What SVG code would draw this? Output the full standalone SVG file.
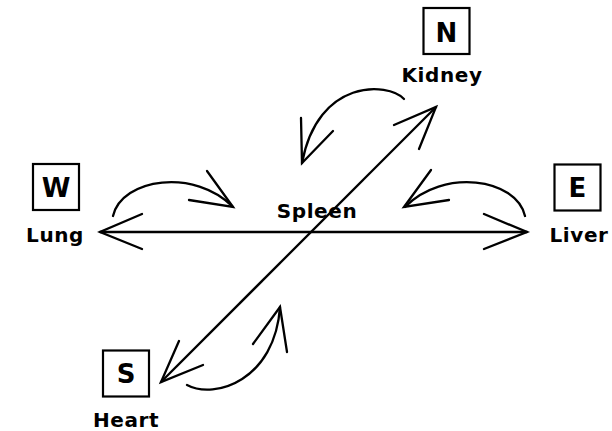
<svg xmlns="http://www.w3.org/2000/svg" width="612" height="431" viewBox="0 0 612 431">
<style>
.ln{fill:none;stroke:#000;stroke-width:2.3;stroke-linecap:round;stroke-linejoin:miter}
.box{fill:#fff;stroke:#000;stroke-width:2.2}
.lt{font-family:"DejaVu Sans",sans-serif;font-weight:bold;font-size:26px;text-anchor:middle}
.lb{font-family:"DejaVu Sans",sans-serif;font-weight:bold;font-size:20px;text-anchor:middle;letter-spacing:0.6px}
</style>
<rect width="612" height="431" fill="#fff"/>
<g id="connectors">
<path class="ln" d="M100,232 L527,232"/>
<path class="ln" d="M142,214 L100,232 L142,249"/>
<path class="ln" d="M484,214 L527,232 L484,249"/>
<path class="ln" d="M436,107 L161,382"/>
<path class="ln" d="M394,125 L436,107 L419,149"/>
<path class="ln" d="M179,341 L161,382 L203,365"/>
<path class="ln" d="M113,216 C122,178 195,168 233,207"/>
<path class="ln" d="M207,171 L233,207 L189,200"/>
<path class="ln" d="M525,216 C516,178 443,168 405,207"/>
<path class="ln" d="M431,170 L404,207 L449,200"/>
<path class="ln" d="M404,99 C388,82 318,78 302,163"/>
<path class="ln" d="M301,118 L302,163 L333,131"/>
<path class="ln" d="M187,385 C215,400 275,380 280,307"/>
<path class="ln" d="M253,344 L280,307 L287,352"/>
</g>
<g id="node-w">
<rect class="box" x="33" y="164" width="46" height="46"/>
<text class="lt" x="56" y="197">W</text>
<text class="lb" x="55" y="242">Lung</text>
</g>
<g id="node-n">
<rect class="box" x="423.5" y="8" width="46" height="46"/>
<text class="lt" x="446.5" y="41.5">N</text>
<text class="lb" x="442" y="82">Kidney</text>
</g>
<g id="node-e">
<rect class="box" x="554.5" y="164.5" width="46" height="46"/>
<text class="lt" x="577.5" y="197">E</text>
<text class="lb" x="579" y="242">Liver</text>
</g>
<g id="node-s">
<rect class="box" x="103" y="350.5" width="46" height="46"/>
<text class="lt" x="126" y="383">S</text>
<text class="lb" x="126" y="427">Heart</text>
</g>
<g id="node-spleen">
<text class="lb" x="317" y="218">Spleen</text>
</g>
</svg>
